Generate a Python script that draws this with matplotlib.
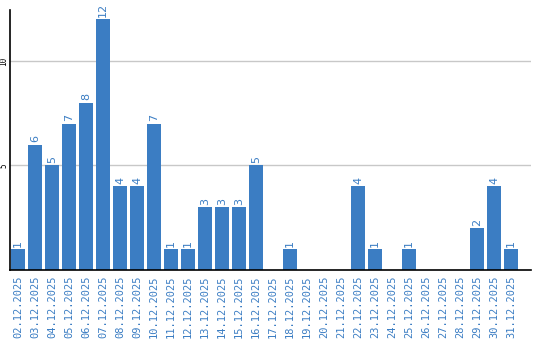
import matplotlib
matplotlib.use("Agg")
import matplotlib.pyplot as plt

dates = ["02.12.2025", "03.12.2025", "04.12.2025", "05.12.2025", "06.12.2025",
         "07.12.2025", "08.12.2025", "09.12.2025", "10.12.2025", "11.12.2025",
         "12.12.2025", "13.12.2025", "14.12.2025", "15.12.2025", "16.12.2025",
         "17.12.2025", "18.12.2025", "19.12.2025", "20.12.2025", "21.12.2025",
         "22.12.2025", "23.12.2025", "24.12.2025", "25.12.2025", "26.12.2025",
         "27.12.2025", "28.12.2025", "29.12.2025", "30.12.2025", "31.12.2025"]
values = [1, 6, 5, 7, 8, 12, 4, 4, 7, 1, 1, 3, 3, 3, 5, 0, 1, 0, 0, 0,
          4, 1, 0, 1, 0, 0, 0, 2, 4, 1]
yticks = [5, 10]

bar_color = "#3b7dc3"
text_color = "#3b7dc3"

fig = plt.figure(figsize=(5.4, 3.4), dpi=100)
ax = fig.add_axes([10/540, 70/340, 521/540, 260/340])
x = list(range(len(values)))
ax.bar(x, values, width=0.82, color=bar_color, zorder=2)
for xi, v in zip(x, values):
    if v > 0:
        ax.text(xi, v + 0.12, str(v), rotation=90, ha="center", va="bottom",
                color=text_color, fontsize=8, family="DejaVu Sans")

ax.set_xlim(-0.47, 30.18)
ax.set_ylim(0, 12.44)
ax.set_yticks(yticks)
ax.set_yticklabels([str(t) for t in yticks], rotation=90, va="center",
                   fontsize=5.5, family="DejaVu Sans Mono")
ax.tick_params(axis="y", length=0, pad=1)
ax.set_xticks(x)
ax.set_xticklabels(dates, rotation=90, color=text_color, fontsize=7.5,
                   family="DejaVu Sans Mono")
ax.tick_params(axis="x", length=0, pad=4)
ax.grid(axis="y", color="#c8c8c8", linewidth=1, zorder=0)
for s in ["top", "right"]:
    ax.spines[s].set_visible(False)
ax.spines["left"].set_linewidth(1.2)
ax.spines["bottom"].set_linewidth(1.2)
ax.spines["left"].set_zorder(3)
ax.spines["bottom"].set_zorder(3)

fig.savefig("out.png", dpi=100)
